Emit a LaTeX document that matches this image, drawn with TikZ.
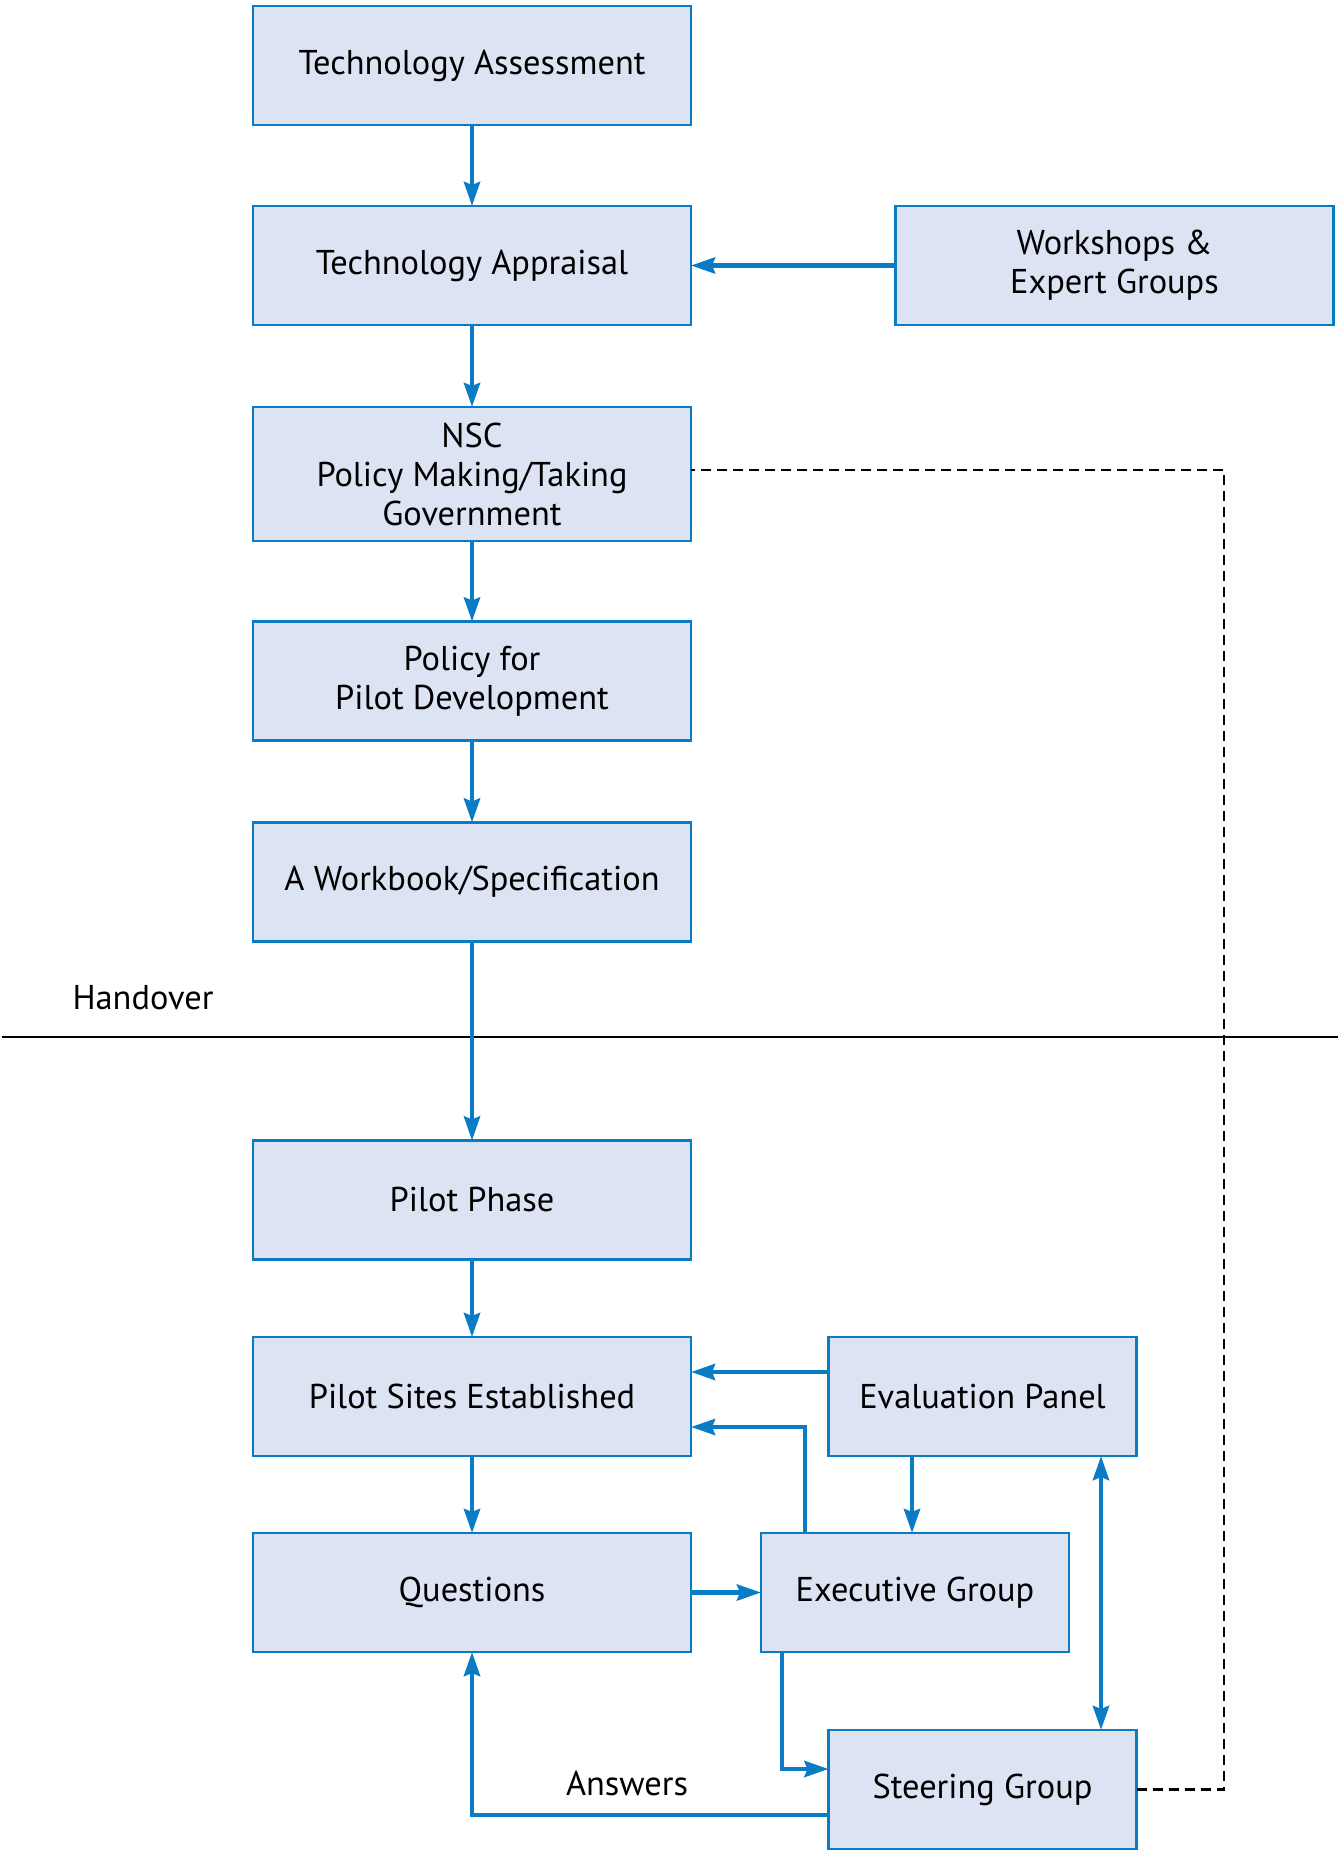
\documentclass[tikz,border=0pt]{standalone}
\usepackage{fontspec}
\setmainfont{PT Sans}
\usetikzlibrary{arrows.meta,calc}
\definecolor{boxfill}{HTML}{DCE3F2}
\definecolor{boxline}{HTML}{0A7CC6}
\tikzset{
  flowbox/.style={draw=boxline, fill=boxfill, line width=1.2pt, rectangle, outer sep=0pt,
    inner sep=2pt, align=center, font=\fontsize{17.2}{19.5}\selectfont, minimum height=59.5pt},
  mainbox/.style={flowbox, minimum width=219pt},
  sidebox/.style={flowbox, minimum width=154pt},
  arr/.style={draw=boxline, line width=2.3pt, -{Stealth[length=12pt,width=8pt,inset=1.5pt]}},
  dblarr/.style={draw=boxline, line width=2.3pt, {Stealth[length=12pt,width=8pt,inset=1.5pt]}-{Stealth[length=12pt,width=8pt,inset=1.5pt]}},
  dashline/.style={draw=black, line width=1.1pt, dash pattern=on 5pt off 3pt},
  plaintext/.style={font=\fontsize{17.2}{19.5}\selectfont, inner sep=0pt}
}
\begin{document}
\begin{tikzpicture}[x=0.5pt,y=-0.5pt]
\useasboundingbox (0,0) rectangle (1338,1851);
% handover line
\coordinate (hl) at (2,1037);
\coordinate (hr) at (1338,1037);
\draw[line width=1.2pt] (hl) -- (hr);
\node[plaintext] (handover) at (143,998) {Handover};

\node[mainbox] (ta) at (472,65.5) {Technology Assessment};
\node[mainbox] (tap) at (472,265.5) {Technology Appraisal};
\node[mainbox] (ws) at (1114.5,265.5) {Workshops \&\\Expert Groups};
\node[mainbox, minimum height=67pt] (nsc) at (472,474) {NSC\\Policy Making/Taking\\Government};
\node[mainbox] (pol) at (472,681) {Policy for\\Pilot Development};
\node[mainbox] (wb) at (472,882) {A Workbook/Specification};
\node[mainbox] (pp) at (472,1200) {Pilot Phase};
\node[mainbox] (ps) at (472,1396.5) {Pilot Sites Established};
\node[mainbox] (q) at (472,1592.5) {Questions};
\node[sidebox] (ep) at (982.5,1396.5) {Evaluation Panel};
\node[sidebox] (eg) at (915,1592.5) {Executive Group};
\node[sidebox] (sg) at (982.5,1789.5) {Steering Group};
\node[plaintext] (ans) at (627,1783) {Answers};

% dashed feedback
\coordinate (dx) at (1224,0);
\draw[dashline] (sg.east) -- (sg.east -| dx) |- ($(nsc.east)+(0,-4)$);

% main flow
\draw[arr] (ta) -- (tap);
\draw[arr] (ws.west) -- (tap.east);
\draw[arr] (tap) -- (nsc);
\draw[arr] (nsc) -- (pol);
\draw[arr] (pol) -- (wb);
\draw[arr] (wb) -- (pp);
\draw[arr] (pp) -- (ps);
\draw[arr] (ps) -- (q);

% lower cluster
\coordinate (ep1) at ($(ep.west)+(0,-24.5)$);
\draw[arr] (ep1) -- (ep1 -| ps.east);
\coordinate (eg1) at ($(eg.north)+(-110,0)$);
\draw[arr] (eg1) |- ($(ps.east)+(0,30.5)$);
\coordinate (ep2) at ($(ep.south)+(-70.5,0)$);
\draw[arr] (ep2) -- (ep2 |- eg.north);
\coordinate (ep3) at ($(ep.south)+(118.5,0)$);
\draw[dblarr] (ep3) -- (ep3 |- sg.north);
\draw[arr] (q.east) -- (eg.west);
\coordinate (eg2) at ($(eg.south)+(-133,0)$);
\draw[arr] (eg2) |- ($(sg.west)+(0,-20.5)$);
\coordinate (sg1) at ($(sg.west)+(0,25.5)$);
\draw[arr] (sg1) -| (q.south);
\end{tikzpicture}
\end{document}
